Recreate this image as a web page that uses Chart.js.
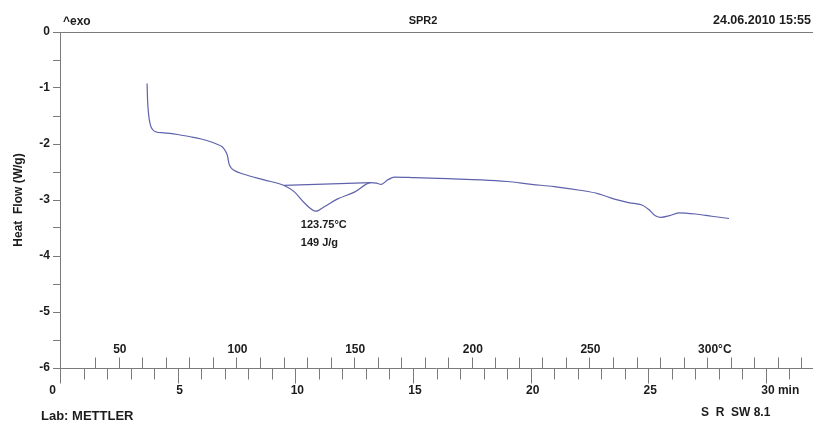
<!DOCTYPE html>
<html>
<head>
<meta charset="utf-8">
<script src="https://cdn.jsdelivr.net/npm/chart.js@4/dist/chart.umd.min.js"></script>
<style>
  html, body { margin: 0; padding: 0; background: #fff; }
  canvas { display: block; }
</style>
</head>
<body>
<canvas id="dsc" width="813" height="421"></canvas>
<script>
// DSC curve (time in min, heat flow in W/g)
const timeMin = [3.70, 3.72, 3.76, 3.84, 3.95, 4.12, 4.41, 5.00, 5.54, 6.00, 6.40, 6.70, 6.89, 7.02, 7.11, 7.18, 7.26, 7.39, 7.82, 8.67,
  9.52, 9.95, 10.38, 10.87, 11.23, 11.80, 12.51, 13.22, 13.45, 13.65, 13.93, 14.21, 15.07, 16.50, 17.91, 19.00, 20.04, 21.00,
  22.17, 22.89, 23.60, 24.20, 24.73, 25.02, 25.30, 25.55, 25.90, 26.30, 27.00, 27.70, 28.43];
const heatFlow = [-0.92, -1.20, -1.45, -1.66, -1.75, -1.79, -1.80, -1.83, -1.87, -1.91, -1.96, -2.01, -2.05, -2.12, -2.20, -2.35, -2.42, -2.47, -2.54, -2.64,
  -2.74, -2.85, -3.05, -3.20, -3.12, -2.98, -2.86, -2.69, -2.70, -2.72, -2.64, -2.59, -2.60, -2.62, -2.64, -2.67, -2.72, -2.76,
  -2.83, -2.89, -2.99, -3.05, -3.09, -3.17, -3.28, -3.31, -3.28, -3.23, -3.25, -3.29, -3.33];

// integration baseline under the melting peak
const baseTime = [9.52, 13.22];
const baseFlow = [-2.74, -2.69];

// peak annotation
const peakAt = { t: 10.87, v: -3.20 };
const peakText = ['123.75°C', '149 J/g'];

// time axis (min)
const minuteTicks = [0,1,2,3,4,5,6,7,8,9,10,11,12,13,14,15,16,17,18,19,20,21,22,23,24,25,26,27,28,29,30,31];
const minuteLabels = [0, 5, 10, 15, 20, 25, 30];

// temperature axis (°C), 25 °C at t=0, 10 K/min
const startTemp = 25;
const heatRate = 10;
const tempTicks = [40,50,60,70,80,90,100,110,120,130,140,150,160,170,180,190,200,210,220,230,240,250,260,270,280,290,300,310,320,330,340];
const tempLabels = [50, 100, 150, 200, 250, 300];

const FONT = "'Liberation Sans', Arial, sans-serif";
const axisColor = '#7a7a7a';
const textColor = '#1c1c1c';
const lineColor = '#5e62ab';

const decor = {
  id: 'decor',
  afterDraw(chart) {
    const ctx = chart.ctx;
    const xs = chart.scales.x, ys = chart.scales.y;
    const yb = Math.round(ys.getPixelForValue(-6)) + 0.5;
    ctx.save();
    ctx.strokeStyle = axisColor;
    ctx.lineWidth = 1;
    ctx.fillStyle = textColor;
    ctx.textBaseline = 'middle';

    // x axis line
    ctx.beginPath();
    ctx.moveTo(xs.left, yb);
    ctx.lineTo(xs.right, yb);
    ctx.stroke();

    // minute ticks (below)
    minuteTicks.forEach(t => {
      const px = Math.round(xs.getPixelForValue(t)) + 0.5;
      const len = t % 5 === 0 ? 15 : 11;
      ctx.beginPath();
      ctx.moveTo(px, yb);
      ctx.lineTo(px, yb + len);
      ctx.stroke();
    });
    // temperature ticks (above)
    tempTicks.forEach(T => {
      const px = Math.round(xs.getPixelForValue((T - startTemp) / heatRate)) + 0.5;
      ctx.beginPath();
      ctx.moveTo(px, yb);
      ctx.lineTo(px, yb - 11);
      ctx.stroke();
    });

    ctx.font = 'bold 12px ' + FONT;
    minuteLabels.forEach(t => {
      const px = xs.getPixelForValue(t);
      if (t === 0) {
        ctx.textAlign = 'right';
        ctx.fillText('0', px - 4, yb + 22);
      } else {
        ctx.textAlign = 'center';
        ctx.fillText(String(t), px + 2, yb + 22);
      }
    });
    // unit after last minute label
    {
      const last = minuteLabels[minuteLabels.length - 1];
      const px = xs.getPixelForValue(last) + 2 + ctx.measureText(String(last)).width / 2;
      ctx.textAlign = 'left';
      ctx.fillText(' min', px, yb + 22);
    }
    tempLabels.forEach((T, i) => {
      const px = xs.getPixelForValue((T - startTemp) / heatRate);
      ctx.textAlign = 'center';
      ctx.fillText(String(T), px + 1, yb - 19);
      if (i === tempLabels.length - 1) {
        ctx.textAlign = 'left';
        ctx.fillText('°C', px + 1 + ctx.measureText(String(T)).width / 2, yb - 19);
      }
    });

    // header
    ctx.textAlign = 'left';
    ctx.fillText('^exo', 63, 22);
    ctx.font = 'bold 11px ' + FONT;
    ctx.textAlign = 'center';
    ctx.fillText('SPR2', 423, 21);
    ctx.font = 'bold 12.5px ' + FONT;
    ctx.textAlign = 'right';
    ctx.fillText('24.06.2010 15:55', 811, 21);

    // footer
    ctx.textAlign = 'left';
    ctx.font = 'bold 13px ' + FONT;
    ctx.fillText('Lab: METTLER', 41, 416);
    ctx.font = 'bold 12px ' + FONT;
    ctx.fillText('S  R  SW 8.1', 701, 413);

    // peak annotation
    const ax = xs.getPixelForValue(peakAt.t) - 15;
    const ay = ys.getPixelForValue(peakAt.v);
    ctx.font = 'bold 11px ' + FONT;
    ctx.fillText(peakText[0], ax, ay + 14);
    ctx.fillText(peakText[1], ax, ay + 32);
    ctx.restore();
  }
};

new Chart(document.getElementById('dsc'), {
  type: 'line',
  data: {
    datasets: [
      {
        data: timeMin.map((t, i) => ({ x: t, y: heatFlow[i] })),
        borderColor: lineColor,
        borderWidth: 1.2,
        pointRadius: 0,
        cubicInterpolationMode: 'monotone',
        fill: false
      },
      {
        data: baseTime.map((t, i) => ({ x: t, y: baseFlow[i] })),
        borderColor: lineColor,
        borderWidth: 1.2,
        pointRadius: 0,
        tension: 0,
        fill: false
      }
    ]
  },
  options: {
    responsive: false,
    animation: false,
    devicePixelRatio: 1,
    layout: { padding: { top: 32, right: 0, bottom: 53, left: 0 } },
    plugins: { legend: { display: false }, tooltip: { enabled: false } },
    scales: {
      x: { type: 'linear', min: 0, max: 32, display: false },
      y: {
        min: -6,
        max: 0,
        afterFit(s) { s.width = 60; },
        border: { display: true, color: axisColor, width: 1 },
        grid: {
          drawOnChartArea: true,
          color: c => (c.tick && c.tick.value === 0 ? axisColor : 'rgba(0,0,0,0)'),
          tickColor: axisColor,
          tickLength: 7
        },
        ticks: {
          stepSize: 0.5,
          autoSkip: false,
          padding: 3,
          color: textColor,
          font: { family: FONT, size: 12, weight: 'bold' },
          callback: v => (Number.isInteger(v) ? String(v) : '')
        },
        title: {
          display: true,
          text: 'Heat  Flow (W/g)',
          color: textColor,
          font: { family: FONT, size: 12, weight: 'bold' },
          padding: { top: 11, bottom: 0 }
        }
      }
    }
  },
  plugins: [decor]
});
</script>
</body>
</html>
